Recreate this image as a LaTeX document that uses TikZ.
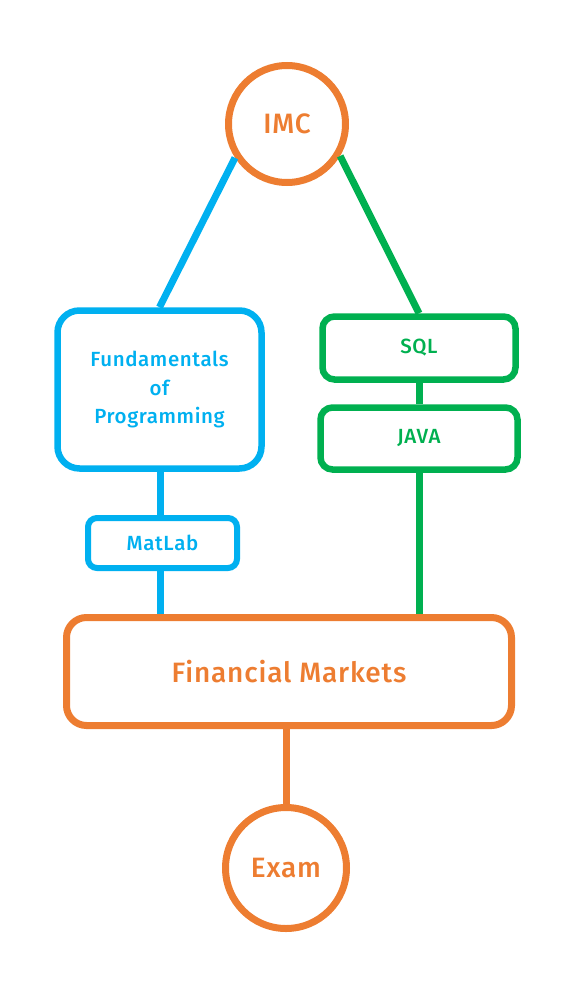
\documentclass[tikz,border=0pt]{standalone}
\usepackage{fontspec}
\setmainfont{Fira Sans Medium}
\definecolor{orng}{HTML}{ED7D31}
\definecolor{blu}{HTML}{00B0F0}
\definecolor{grn}{HTML}{00B050}
\begin{document}
\begin{tikzpicture}[x=1pt,y=-1pt,
  circ/.style={circle,draw=orng,line width=7pt,text=orng,font=\fontsize{28}{30}\selectfont\addfontfeature{LetterSpace=3}},
  bigbox/.style={rounded corners=20pt,line width=7pt,font=\fontsize{28}{30}\selectfont\addfontfeature{LetterSpace=3}},
  smallbox/.style={rounded corners=12pt,line width=6.5pt,font=\fontsize{20.5}{28.5}\selectfont\addfontfeature{LetterSpace=3}},
  conn/.style={line width=7pt}]
\useasboundingbox (0,0) rectangle (575,993);
\node[circ,minimum size=117pt,inner sep=0pt] (imc) at (287,124) {IMC};
\node[circ,minimum size=121pt,inner sep=0pt] (exam) at (286,868) {Exam};
\node[smallbox,draw=blu,text=blu,minimum width=204pt,minimum height=158pt,align=center,rounded corners=22pt] (fund) at (159.5,389.5) {Fundamentals\\of\\Programming};
\node[smallbox,draw=blu,text=blu,minimum width=149pt,minimum height=50pt,line width=6pt,rounded corners=9pt] (mat) at (162.5,543) {MatLab};
\node[smallbox,draw=grn,text=grn,minimum width=193pt,minimum height=63pt] (sql) at (419,348) {SQL};
\node[smallbox,draw=grn,text=grn,minimum width=197pt,minimum height=62pt] (java) at (419,438.5) {JAVA};
\node[bigbox,draw=orng,text=orng,minimum width=445pt,minimum height=108pt] (fm) at (289,671.5) {Financial Markets};
\coordinate (fs) at ([xshift=0.5pt]fund.south);
\draw[conn,blu] (imc.213) -- (fund.north);
\draw[conn,grn] (imc.329) -- (sql.north);
\draw[conn,grn] (sql) -- (java);
\draw[conn,blu] (fs) -- (fs |- mat.north);
\draw[conn,blu] (fs |- mat.south) -- (fs |- fm.north);
\draw[conn,grn] (java.south) -- (java.south |- fm.north);
\draw[conn,orng] (fm.south -| exam.north) -- (exam.north);
\end{tikzpicture}
\end{document}
